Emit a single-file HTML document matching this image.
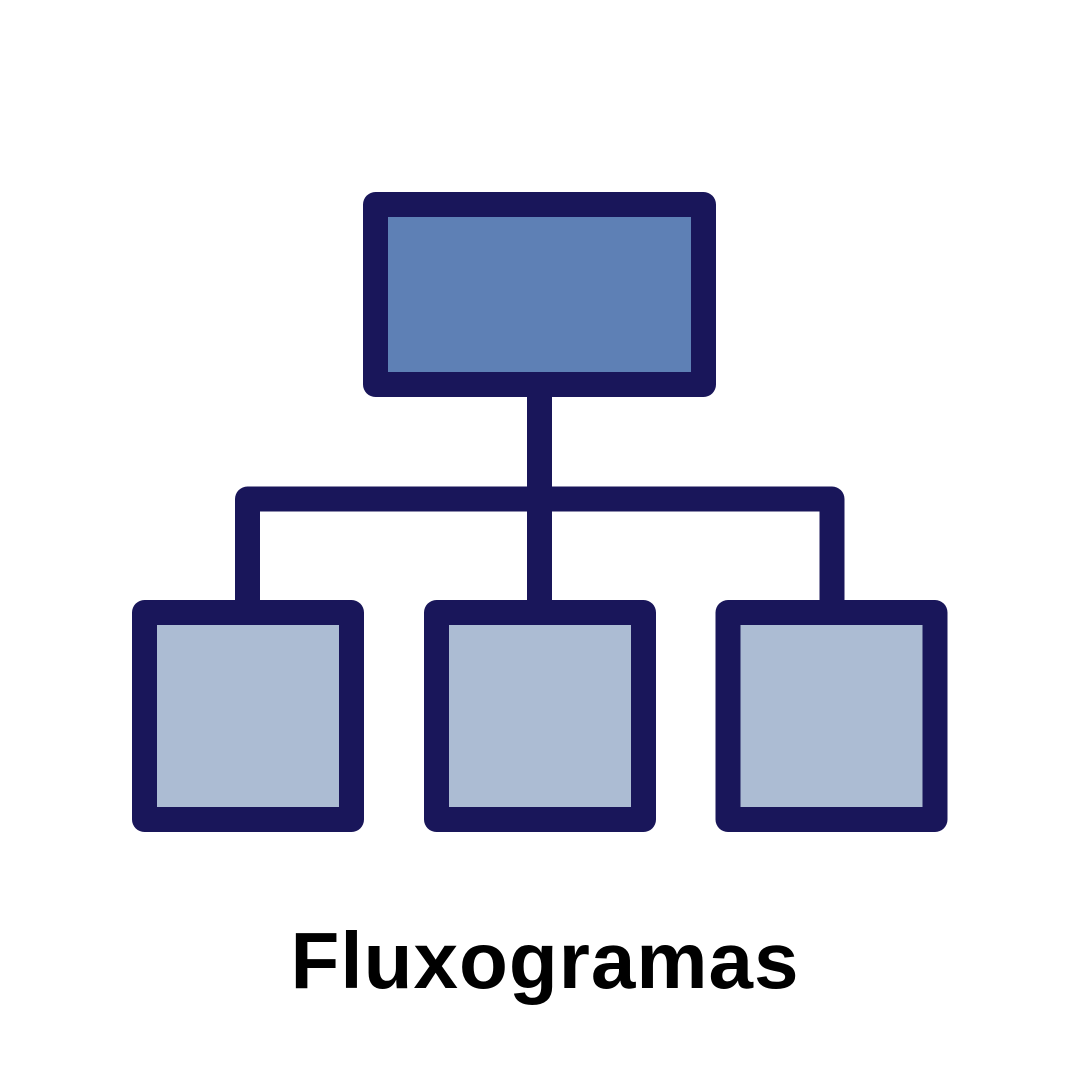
<!DOCTYPE html>
<html><head><meta charset="utf-8"><style>
html,body{margin:0;padding:0;background:#fff;}
svg{display:block}
</style></head><body>
<svg width="1080" height="1080" viewBox="0 0 1080 1080" xmlns="http://www.w3.org/2000/svg">
<rect width="1080" height="1080" fill="#fff"/>
<g stroke="#19165a" stroke-width="25" stroke-linejoin="round">
<rect x="375.5" y="204.5" width="328" height="180" fill="#5e80b5"/>
<line x1="539.5" y1="397" x2="539.5" y2="600" stroke-linecap="butt"/>
<polyline points="247.5,600 247.5,499 832,499 832,600" fill="none"/>
<rect x="144.5" y="612.5" width="207" height="207" fill="#acbcd3"/>
<rect x="436.5" y="612.5" width="207" height="207" fill="#acbcd3"/>
<rect x="728" y="612.5" width="207" height="207" fill="#acbcd3"/>
</g>
<text x="545" y="988" text-anchor="middle" font-family="Liberation Sans, Arial, sans-serif" font-weight="bold" font-size="80" letter-spacing="1" fill="#000">Fluxogramas</text>
</svg>
</body></html>
